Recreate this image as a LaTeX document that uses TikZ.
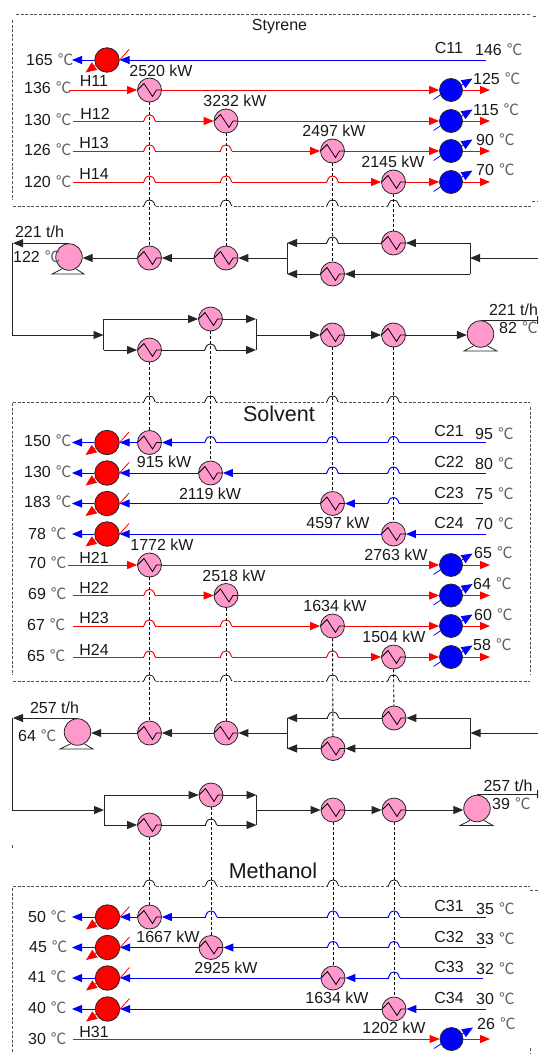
\documentclass[tikz,border=0pt]{standalone}
\usepackage{fontspec}
\setmainfont{Liberation Sans}
\newfontfamily\cjk{Noto Sans CJK SC}
\usetikzlibrary{arrows.meta}
\definecolor{hxpink}{HTML}{FF99CC}
\definecolor{framegray}{HTML}{555555}
\definecolor{deggray}{HTML}{606060}
\newcounter{lbl}
\tikzset{
  txt/.style={inner sep=0pt,anchor=base,text=black!90},
  hxnode/.style={circle,draw=black!85,line width=.8pt,fill=hxpink,minimum size=24pt,inner sep=0pt,
    path picture={\draw[black,line width=.8pt]
      ([shift={(-12pt,0pt)}]path picture bounding box.center)
      -- ([shift={(-5.5pt,6.5pt)}]path picture bounding box.center)
      -- ([shift={(3pt,-6.5pt)}]path picture bounding box.center)
      -- ([shift={(7pt,0pt)}]path picture bounding box.center)
      -- ([shift={(12pt,0pt)}]path picture bounding box.center);}},
  heatnode/.style={circle,draw=black!85,line width=.8pt,fill=red,minimum size=24.5pt,inner sep=0pt},
  coolnode/.style={circle,draw=black!85,line width=.8pt,fill=blue,minimum size=23pt,inner sep=0pt},
  pumpnode/.style={circle,draw=black!85,line width=.8pt,fill=hxpink,minimum size=26.5pt,inner sep=0pt},
  tip/.style={-{Triangle[length=10pt,width=8pt]}},
  bigtip/.style={-{Triangle[length=11pt,width=9pt]}},
  hot/.style={red,line width=.95pt},
  cold/.style={blue,line width=.95pt},
  flow/.style={black!85,line width=.95pt},
  duty/.style={black,line width=.9pt,dash pattern=on 3pt off 2pt},
  frame/.style={framegray,line width=.8pt,dash pattern=on 3pt off 1.6pt},
}
\newcommand\lab[4][16]{\stepcounter{lbl}\node[txt,font=\fontsize{#1}{#1}\selectfont] (lbl\thelbl) at (#2,#3+0.36*#1) {#4};}
\newcommand\tm[3]{\stepcounter{lbl}\node[txt,anchor=base west,font=\fontsize{16}{16}\selectfont] (lbl\thelbl) at (#1,#2+5.7) {#3\hspace{5pt}{\cjk\fontsize{15.5}{15.5}\selectfont\color{deggray}℃}};}
\newcommand\HX[3]{\node[hxnode] (#1) at (#2,#3) {};}
\newcommand\Heater[3]{\node[heatnode] (#1) at (#2,#3) {};
  \draw[red,line width=.8pt] (#1.0) -- ([shift={(22pt,10.5pt)}]#1.center);
  \draw[red,line width=.8pt,bigtip] (#1.205) -- ([shift={(-21.5pt,-12.5pt)}]#1.center);}
\newcommand\Cooler[4]{\node[coolnode] (#1) at (#2,#3) {};
  \draw[blue,line width=.8pt,bigtip] (#1.25) -- ([shift={(21.5pt,11.5pt)}]#1.center);
  \draw[blue,line width=.8pt] (#1.205) -- ([shift={(-17.5pt,-9.5pt)}]#1.center);
  \coordinate (#1out) at (#4,#3);
  \draw[hot,tip] (#1) -- (#1out);}
\newcommand\Pump[5]{\node[pumpnode] (#1) at (#2,#3) {};
  \draw[black!85,line width=.8pt] (#1.240) -- (#4,#3+17) -- (#5,#3+17) -- (#1.300);}
\newcommand\hop[3]{\begin{scope}[shift={(#1,#2)}]
  \fill[white] (-5.5,-1) rectangle (5.5,1);
  \draw[#3] (-6,0) .. controls (-4.5,0) and (-5.5,-6) .. (0,-6) .. controls (5.5,-6) and (4.5,0) .. (6,0);
\end{scope}}
\begin{document}
\begin{tikzpicture}[x=1pt,y=-1pt]
\clip (0,0) rectangle (538,1054);
% ---------- frames
\draw[frame] (16,14) -- (531,14);
\draw[frame] (12,20) -- (12,200);
\draw[frame] (13,206) -- (531,206);
\draw[frame] (533,16) -- (538,16);
\draw[frame] (532,201) -- (538,201);
\draw[frame] (13,402) -- (530,402);
\draw[frame] (12,403) -- (12,675);
\draw[frame] (13,681) -- (530,681);
\draw[frame] (530.7,407) -- (530.7,675);
\draw[frame] (13,886) -- (530,886);
\draw[frame] (12,888) -- (12,1054);
\draw[frame] (530,890) -- (538,890);
\draw[frame] (530,1048) -- (530,1054);
\draw[frame] (12.5,845) -- (12.5,848);
% ---------- Styrene nodes
\Heater{HS}{107}{60}
\HX{E11}{149.5}{90}
\HX{E12}{226}{121}
\HX{E13}{332.5}{151}
\HX{E14}{393.5}{182}
\Cooler{CA}{451}{90}{490}
\Cooler{CB}{451}{121}{490}
\Cooler{CC}{451}{151}{490}
\Cooler{CD}{451}{182}{490}
% ---------- flow 1
\Pump{P1}{69}{257}{52}{84}
\HX{F1}{149.5}{258}
\HX{F2}{226}{258}
\HX{F3}{393.5}{243}
\HX{F4}{332.5}{274}
\HX{G1}{210.5}{319}
\HX{G2}{149.5}{350}
\HX{G3}{332.5}{335}
\HX{G4}{393.5}{335}
\Pump{P2}{480.5}{334}{464}{497}
% ---------- Solvent nodes
\Heater{HA}{107}{442.5}
\Heater{HB}{107}{473}
\Heater{HC}{107}{503.5}
\Heater{HD}{107}{534}
\HX{E21}{149.5}{442.5}
\HX{E22}{210.5}{473}
\HX{E23}{332.5}{503.5}
\HX{E24}{393.5}{534}
\HX{E25}{149.5}{565}
\HX{E26}{226}{595.5}
\HX{E27}{332.5}{626}
\HX{E28}{393.5}{657}
\Cooler{CE}{451}{565}{490}
\Cooler{CF}{451}{595.5}{490}
\Cooler{CG}{451}{626}{490}
\Cooler{CH}{451}{657}{490}
% ---------- flow 2
\Pump{P3}{77.5}{732}{60}{93}
\HX{J1}{149.5}{733}
\HX{J2}{226}{733}
\HX{J3}{394}{718}
\HX{J4}{333}{748.5}
\HX{K1}{211}{795}
\HX{K2}{149.5}{825}
\HX{K3}{333}{810}
\HX{K4}{394}{810}
\Pump{P4}{477}{808.5}{460}{493}
% ---------- Methanol nodes
\Heater{HE}{107.5}{917}
\Heater{HF}{107.5}{947.5}
\Heater{HG}{107.5}{978}
\Heater{HH}{107.5}{1009}
\HX{E31}{149.5}{917}
\HX{E32}{211}{947.5}
\HX{E33}{333}{978}
\HX{E34}{394}{1009}
\Cooler{CI}{451.5}{1039}{490}
% ---------- free ends
\coordinate (c11s) at (486,60);   \coordinate (c11e) at (72,60);
\coordinate (h11s) at (69,90);    \coordinate (h12s) at (73,121);
\coordinate (h13s) at (73,151);   \coordinate (h14s) at (73,182);
\coordinate (c21s) at (486,442.5);\coordinate (c21e) at (72,442.5);
\coordinate (c22s) at (486,473);  \coordinate (c22e) at (72,473);
\coordinate (c23s) at (483,503.5);\coordinate (c23e) at (72,503.5);
\coordinate (c24s) at (486,534);  \coordinate (c24e) at (72,534);
\coordinate (h21s) at (68,565);   \coordinate (h22s) at (73,595.5);
\coordinate (h23s) at (73,626);   \coordinate (h24s) at (73,657);
\coordinate (c31s) at (486,917);  \coordinate (c31e) at (72,917);
\coordinate (c32s) at (486,947.5);\coordinate (c32e) at (72,947.5);
\coordinate (c33s) at (483,978);  \coordinate (c33e) at (72,978);
\coordinate (c34s) at (486,1009); \coordinate (c34e) at (72,1009);
\coordinate (h31s) at (73,1039);
% ---------- Styrene streams
\draw[cold,tip] (c11s) -- (HS);
\draw[cold,tip] (HS) -- (c11e);
\draw[hot,tip] (h11s) -- (E11);
\draw[hot,tip] (E11) -- (CA);
\draw[hot,tip] (h12s) -- (E12);
\draw[hot,tip] (E12) -- (CB);
\draw[hot,tip] (h13s) -- (E13);
\draw[hot,tip] (E13) -- (CC);
\draw[hot,tip] (h14s) -- (E14);
\draw[hot,tip] (E14) -- (CD);
\hop{149.5}{121}{hot}
\hop{149.5}{151}{hot}\hop{226}{151}{hot}
\hop{149.5}{182}{hot}\hop{226}{182}{hot}\hop{332.5}{182}{hot}
% ---------- flow 1 connectors
\coordinate (in1) at (538,258);
\coordinate (s1r) at (470,258); \coordinate (s1ru) at (470,243); \coordinate (s1rd) at (470,274);
\coordinate (s1l) at (287,258); \coordinate (s1lu) at (287,243); \coordinate (s1ld) at (287,274);
\draw[flow,tip] (in1) -- (s1r);
\draw[flow] (s1ru) -- (s1rd);
\draw[flow,tip] (s1ru) -- (F3);
\draw[flow,tip] (F3) -- (s1lu);
\draw[flow,tip] (s1rd) -- (F4);
\draw[flow,tip] (F4) -- (s1ld);
\draw[flow] (s1lu) -- (s1ld);
\draw[flow,tip] (s1l) -- (F2);
\draw[flow,tip] (F2) -- (F1);
\draw[flow,tip] (F1) -- (F1 -| P1.east);
\hop{332.5}{243}{flow}
\coordinate (p1t) at (69,243.2); \coordinate (c1a) at (13,243.2); \coordinate (c1b) at (12,335);
\coordinate (s2l) at (103.5,335); \coordinate (s2lu) at (103.5,319); \coordinate (s2ld) at (103.5,350);
\coordinate (s2r) at (256,335); \coordinate (s2ru) at (256,319); \coordinate (s2rd) at (256,350);
\coordinate (p2t) at (480.5,320); \coordinate (out1) at (547,320);
\draw[flow,tip] (p1t) -- (c1a);
\draw[flow] (12,243.2) -- (c1b);
\draw[flow,tip] (c1b) -- (s2l);
\draw[flow] (s2lu) -- (s2ld);
\draw[flow,tip] (s2lu) -- (G1);
\draw[flow,tip] (G1) -- (s2ru);
\draw[flow,tip] (s2ld) -- (G2);
\draw[flow,tip] (G2) -- (s2rd);
\draw[flow] (s2ru) -- (s2rd);
\draw[flow,tip] (s2r) -- (G3);
\draw[flow,tip] (G3) -- (G4);
\draw[flow,tip] (G4) -- (G4 -| P2.west);
\draw[flow,tip] (p2t) -- (out1);
\hop{210.5}{350}{flow}
% ---------- Solvent streams
\draw[cold,tip] (c21s) -- (E21);
\draw[cold,tip] (E21) -- (HA);
\draw[cold,tip] (HA) -- (c21e);
\draw[cold,tip] (c22s) -- (E22);
\draw[cold,tip] (E22) -- (HB);
\draw[cold,tip] (HB) -- (c22e);
\draw[cold,tip] (c23s) -- (E23);
\draw[cold,tip] (E23) -- (HC);
\draw[cold,tip] (HC) -- (c23e);
\draw[cold,tip] (c24s) -- (E24);
\draw[cold,tip] (E24) -- (HD);
\draw[cold,tip] (HD) -- (c24e);
\hop{393.5}{442.5}{cold}\hop{332.5}{442.5}{cold}\hop{210.5}{442.5}{cold}
\hop{393.5}{473}{cold}\hop{332.5}{473}{cold}
\hop{393.5}{503.5}{cold}
\draw[hot,tip] (h21s) -- (E25);
\draw[hot,tip] (E25) -- (CE);
\draw[hot,tip] (h22s) -- (E26);
\draw[hot,tip] (E26) -- (CF);
\draw[hot,tip] (h23s) -- (E27);
\draw[hot,tip] (E27) -- (CG);
\draw[hot,tip] (h24s) -- (E28);
\draw[hot,tip] (E28) -- (CH);
\hop{149.5}{595.5}{hot}
\hop{149.5}{626}{hot}\hop{226}{626}{hot}
\hop{149.5}{657}{hot}\hop{226}{657}{hot}\hop{332.5}{657}{hot}
% ---------- flow 2 connectors
\coordinate (in2) at (538,733);
\coordinate (s3r) at (470.5,733); \coordinate (s3ru) at (470.5,718); \coordinate (s3rd) at (470.5,748.5);
\coordinate (s3l) at (287,733); \coordinate (s3lu) at (287,718); \coordinate (s3ld) at (287,748.5);
\draw[flow,tip] (in2) -- (s3r);
\draw[flow] (s3ru) -- (s3rd);
\draw[flow,tip] (s3ru) -- (J3);
\draw[flow,tip] (J3) -- (s3lu);
\draw[flow,tip] (s3rd) -- (J4);
\draw[flow,tip] (J4) -- (s3ld);
\draw[flow] (s3lu) -- (s3ld);
\draw[flow,tip] (s3l) -- (J2);
\draw[flow,tip] (J2) -- (J1);
\draw[flow,tip] (J1) -- (J1 -| P3.east);
\hop{333}{718}{flow}
\coordinate (p3t) at (77.5,718); \coordinate (c2a) at (13,718); \coordinate (c2b) at (12,810);
\coordinate (s4l) at (104,810); \coordinate (s4lu) at (104,795); \coordinate (s4ld) at (104,825);
\coordinate (s4r) at (256.5,810); \coordinate (s4ru) at (256.5,795); \coordinate (s4rd) at (256.5,825);
\coordinate (p4t) at (477,794); \coordinate (out2) at (547,794);
\draw[flow,tip] (p3t) -- (c2a);
\draw[flow] (12,718) -- (c2b);
\draw[flow,tip] (c2b) -- (s4l);
\draw[flow] (s4lu) -- (s4ld);
\draw[flow,tip] (s4lu) -- (K1);
\draw[flow,tip] (K1) -- (s4ru);
\draw[flow,tip] (s4ld) -- (K2);
\draw[flow,tip] (K2) -- (s4rd);
\draw[flow] (s4ru) -- (s4rd);
\draw[flow,tip] (s4r) -- (K3);
\draw[flow,tip] (K3) -- (K4);
\draw[flow,tip] (K4) -- (K4 -| P4.west);
\draw[flow,tip] (p4t) -- (out2);
\hop{211}{825}{flow}
% ---------- Methanol streams
\draw[cold,tip] (c31s) -- (E31);
\draw[cold,tip] (E31) -- (HE);
\draw[cold,tip] (HE) -- (c31e);
\draw[cold,tip] (c32s) -- (E32);
\draw[cold,tip] (E32) -- (HF);
\draw[cold,tip] (HF) -- (c32e);
\draw[cold,tip] (c33s) -- (E33);
\draw[cold,tip] (E33) -- (HG);
\draw[cold,tip] (HG) -- (c33e);
\draw[cold,tip] (c34s) -- (E34);
\draw[cold,tip] (E34) -- (HH);
\draw[cold,tip] (HH) -- (c34e);
\hop{394}{917}{cold}\hop{333}{917}{cold}\hop{211}{917}{cold}
\hop{394}{947.5}{cold}\hop{333}{947.5}{cold}
\hop{394}{978}{cold}
\draw[hot,tip] (h31s) -- (CI);
% ---------- frame hops
\hop{149.5}{206}{black,line width=.7pt}\hop{226}{206}{black,line width=.7pt}\hop{332.5}{206}{black,line width=.7pt}\hop{393.5}{206}{black,line width=.7pt}
\hop{149.5}{402}{black,line width=.7pt}\hop{210.5}{402}{black,line width=.7pt}\hop{332.5}{402}{black,line width=.7pt}\hop{393.5}{402}{black,line width=.7pt}
\hop{149.5}{681}{black,line width=.7pt}\hop{226}{681}{black,line width=.7pt}\hop{332.5}{681}{black,line width=.7pt}\hop{393.5}{681}{black,line width=.7pt}
\hop{149.5}{886}{black,line width=.7pt}\hop{211}{886}{black,line width=.7pt}\hop{333}{886}{black,line width=.7pt}\hop{394}{886}{black,line width=.7pt}
% ---------- duty links
\draw[duty] (E11) -- (F1);
\draw[duty] (E12) -- (F2);
\draw[duty] (E13) -- (F4);
\draw[duty] (E14) -- (F3);
\draw[duty] (G2) -- (E21);
\draw[duty] (G1) -- (E22);
\draw[duty] (G3) -- (E23);
\draw[duty] (G4) -- (E24);
\draw[duty] (E25) -- (J1);
\draw[duty] (E26) -- (J2);
\draw[duty] (E27) -- (J4);
\draw[duty] (E28) -- (J3);
\draw[duty] (K2) -- (E31);
\draw[duty] (K1) -- (E32);
\draw[duty] (K3) -- (E33);
\draw[duty] (K4) -- (E34);
% ---------- texts: Styrene
\lab{279.5}{25}{Styrene}
\lab{449}{48}{C11}
\tm{26}{60}{165}\tm{475}{50}{146}
\tm{24}{88}{136}\tm{24}{120}{130}\tm{24}{150}{126}\tm{24}{182}{120}
\tm{473}{79}{125}\tm{473}{110}{115}\tm{476}{140}{90}\tm{476}{170}{70}
\lab{94}{81}{H11}\lab{95}{114}{H12}\lab{94}{143}{H13}\lab{94}{174}{H14}
\lab{161}{71}{2520 kW}\lab{235}{101}{3232 kW}\lab{334}{131}{2497 kW}\lab{393}{162}{2145 kW}
% flow 1
\lab{39.5}{232}{221 t/h}\tm{13}{257}{122}
\lab{513.5}{310}{221 t/h}\tm{499}{328}{82}
% Solvent
\lab[21.5]{279}{414}{Solvent}
\lab{449}{431}{C21}\lab{449}{462}{C22}\lab{449}{493}{C23}\lab{449}{523}{C24}
\tm{475}{434}{95}\tm{475}{464}{80}\tm{475}{494}{75}\tm{475}{524}{70}
\tm{24}{441}{150}\tm{24}{472}{130}\tm{24}{502}{183}\tm{28}{534}{78}
\tm{28}{563}{70}\tm{28}{594}{69}\tm{27}{625}{67}\tm{27}{656}{65}
\tm{474}{553}{65}\tm{473}{584}{64}\tm{474}{615}{60}\tm{473}{645}{58}
\lab{94}{558}{H21}\lab{94}{588}{H22}\lab{94}{618}{H23}\lab{94}{650}{H24}
\lab{164}{462}{915 kW}\lab{210}{494}{2119 kW}\lab{338}{523}{4597 kW}\lab{396}{555}{2763 kW}
\lab{162}{545}{1772 kW}\lab{234}{576}{2518 kW}\lab{335}{606}{1634 kW}\lab{394}{637}{1504 kW}
% flow 2
\lab{54.5}{708}{257 t/h}\tm{18}{736}{64}
\lab{508}{786}{257 t/h}\tm{492}{804}{39}
% Methanol
\lab[21.5]{273}{871}{Methanol}
\lab{449}{906}{C31}\lab{449}{937}{C32}\lab{449}{967}{C33}\lab{449}{998}{C34}
\tm{476}{909}{35}\tm{476}{939}{33}\tm{476}{969}{32}\tm{476}{999}{30}
\tm{28}{917}{50}\tm{29}{947}{45}\tm{28}{977}{41}\tm{28}{1008}{40}\tm{28}{1039}{30}
\tm{477}{1024}{26}
\lab{94}{1032}{H31}
\lab{168}{937}{1667 kW}\lab{226}{968}{2925 kW}\lab{337}{998}{1634 kW}\lab{394}{1028}{1202 kW}
\end{tikzpicture}
\end{document}
